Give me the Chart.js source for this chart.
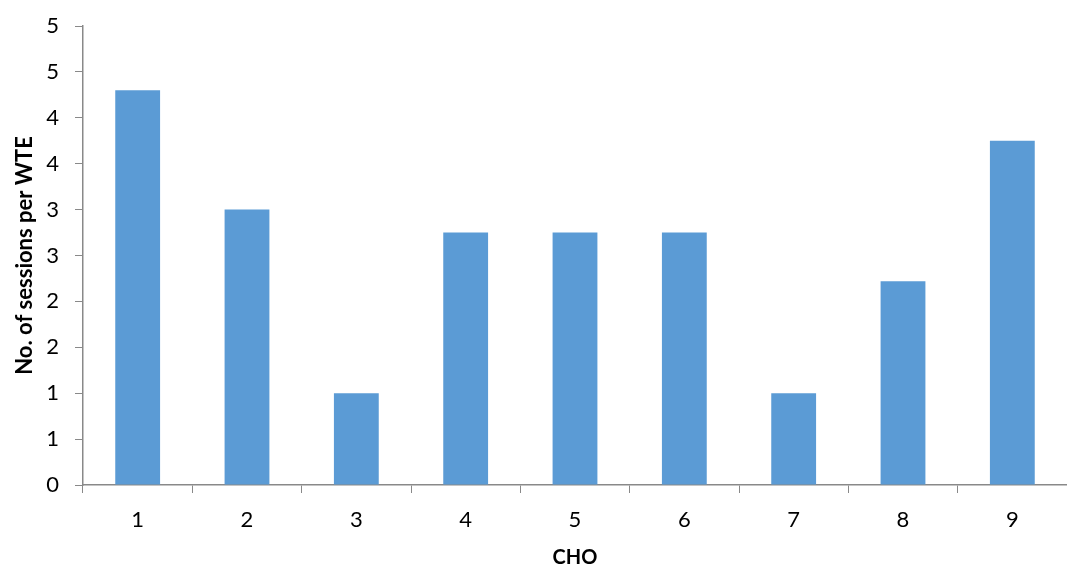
<!DOCTYPE html>
<html lang="en">
<head>
    <meta charset="UTF-8">
    <title>Sessions per WTE by CHO</title>
    <script src="https://cdn.jsdelivr.net/npm/chart.js"></script>
    <style>
        body {
            margin: 0;
            padding: 0;
            background-color: #ffffff;
        }
        .chart-container {
            width: 1067px;
            height: 570px;
        }
    </style>
</head>
<body>
    <div class="chart-container">
        <canvas id="choChart"></canvas>
    </div>

    <script>
        const categories = ["1", "2", "3", "4", "5", "6", "7", "8", "9"];
        const sessions = [4.3, 3.0, 1.0, 2.75, 2.75, 2.75, 1.0, 2.22, 3.75];
        const yTicks = [0, 0.5, 1, 1.5, 2, 2.5, 3, 3.5, 4, 4.5, 5];

        const axisColor = "#898989";
        const fontFamily = "Lato, 'Open Sans', sans-serif";

        const ctx = document.getElementById("choChart").getContext("2d");
        new Chart(ctx, {
            type: "bar",
            data: {
                labels: categories,
                datasets: [{
                    label: "No. of sessions per WTE",
                    data: sessions,
                    backgroundColor: "#5B9BD5",
                    barPercentage: 0.41,
                    categoryPercentage: 1.0
                }]
            },
            options: {
                responsive: true,
                maintainAspectRatio: false,
                animation: false,
                layout: {
                    padding: { top: 26, right: 0, left: 0, bottom: 0 }
                },
                plugins: {
                    legend: { display: false },
                    tooltip: { enabled: false }
                },
                scales: {
                    x: {
                        grid: {
                            drawOnChartArea: false,
                            color: axisColor,
                            tickLength: 8,
                            offset: true
                        },
                        border: { color: axisColor, width: 1.5 },
                        ticks: {
                            color: "#000",
                            font: { family: fontFamily, size: 22 },
                            padding: 14
                        },
                        title: {
                            display: true,
                            text: "CHO",
                            color: "#000",
                            font: { family: fontFamily, size: 20, weight: "bold" },
                            padding: { top: 8, bottom: 0 }
                        },
                        afterFit: function (scale) {
                            scale.height = 85;
                        }
                    },
                    y: {
                        min: 0,
                        max: 5,
                        afterBuildTicks: function (scale) {
                            scale.ticks = yTicks.map(v => ({ value: v }));
                        },
                        grid: {
                            drawOnChartArea: false,
                            color: axisColor,
                            tickLength: 8
                        },
                        border: { color: axisColor, width: 1.5 },
                        ticks: {
                            color: "#000",
                            font: { family: fontFamily, size: 22 },
                            padding: 16,
                            callback: function (value) {
                                return Math.round(value);
                            }
                        },
                        title: {
                            display: true,
                            text: "No. of sessions per WTE",
                            color: "#000",
                            font: { family: fontFamily, size: 22, weight: "bold" },
                            padding: { top: 12, bottom: 4 }
                        },
                        afterFit: function (scale) {
                            scale.width = 83;
                            // keep the label overhang from pushing the plot down
                            scale.paddingTop = 0;
                            scale.paddingBottom = 0;
                        }
                    }
                }
            }
        });
    </script>
</body>
</html>
